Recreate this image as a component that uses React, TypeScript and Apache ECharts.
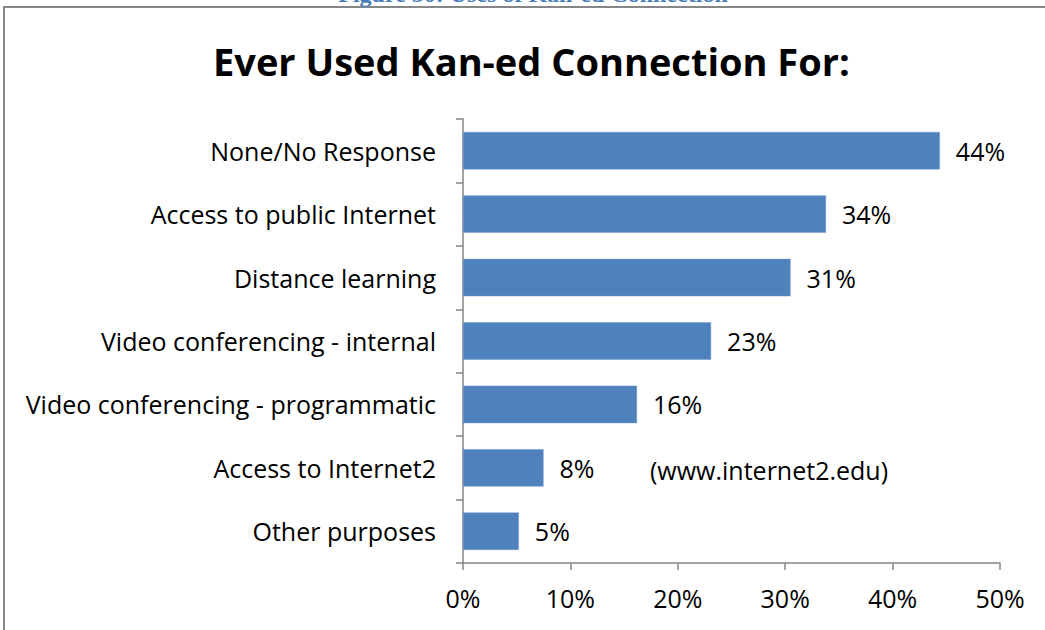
import React, { useEffect, useRef } from "react";
import * as echarts from "echarts";

const categories = [
  "None/No Response",
  "Access to public Internet",
  "Distance learning",
  "Video conferencing - internal",
  "Video conferencing - programmatic",
  "Access to Internet2",
  "Other purposes",
];
const values = [44.4, 33.8, 30.5, 23.1, 16.2, 7.5, 5.2];
const xTicks = [0, 10, 20, 30, 40, 50];
const titleText = "Ever Used Kan-ed Connection For:";
const captionText = "Figure 30: Uses of Kan-ed Connection";
const noteText = "(www.internet2.edu)";

const FONT = "'Open Sans'";
const FS = 25;

export default function App() {
  const ref = useRef<HTMLDivElement>(null);
  useEffect(() => {
    if (!ref.current) return;
    const chart = echarts.init(ref.current, undefined, { renderer: "svg" });
    const cats = [...categories].reverse();
    const vals = [...values].reverse();
    chart.setOption({
      animation: false,
      backgroundColor: "#ffffff",
      title: {
        text: titleText,
        left: 208,
        top: 37,
        textStyle: { fontFamily: FONT, fontSize: 38, fontWeight: "bold", color: "#000" },
      },
      grid: { left: 463, right: 45, top: 119, bottom: 67, containLabel: false },
      xAxis: {
        type: "value",
        min: xTicks[0],
        max: xTicks[xTicks.length - 1],
        interval: 10,
        axisLine: { show: true, lineStyle: { color: "#868686", width: 1.5 } },
        axisTick: { show: true, length: 7, lineStyle: { color: "#868686", width: 1.5 } },
        splitLine: { show: false },
        axisLabel: {
          formatter: (v: number) => `${v}%`,
          fontFamily: FONT,
          fontSize: FS,
          color: "#000",
          margin: 22,
        },
      },
      yAxis: {
        type: "category",
        data: cats,
        axisLine: { show: true, lineStyle: { color: "#868686", width: 1.5 } },
        axisTick: { show: true, length: 7, lineStyle: { color: "#868686", width: 1.5 } },
        axisLabel: { fontFamily: FONT, fontSize: FS, color: "#000", margin: 27 },
      },
      series: [
        {
          type: "bar",
          data: vals,
          barCategoryGap: "41%",
          itemStyle: { color: "#4F81BD", borderColor: "#6f9ad0", borderWidth: 0.5 },
          label: {
            show: true,
            position: "right",
            distance: 16,
            formatter: (p: any) => `${Math.round(p.value)}%`,
            fontFamily: FONT,
            fontSize: FS,
            color: "#000",
          },
        },
      ],
      graphic: [
        {
          type: "rect",
          shape: { x: 4, y: 7, width: 1200, height: 800 },
          style: { fill: "none", stroke: "#868686", lineWidth: 2 },
          silent: true,
        },
        {
          type: "text",
          x: 533,
          y: 6,
          style: {
            text: captionText,
            fill: "#4a7ebb",
            font: "bold 24px 'Liberation Serif', serif",
            align: "center",
            verticalAlign: "bottom",
          },
        },
        {
          type: "text",
          x: 650,
          y: 470,
          style: {
            text: noteText,
            fill: "#000",
            font: `${FS}px ${FONT}`,
            align: "left",
            verticalAlign: "middle",
          },
        },
      ],
    });
    return () => chart.dispose();
  }, []);
  return (
    <div
      ref={ref}
      style={{ position: "fixed", left: 0, top: 0, width: 1045, height: 630 }}
    />
  );
}
